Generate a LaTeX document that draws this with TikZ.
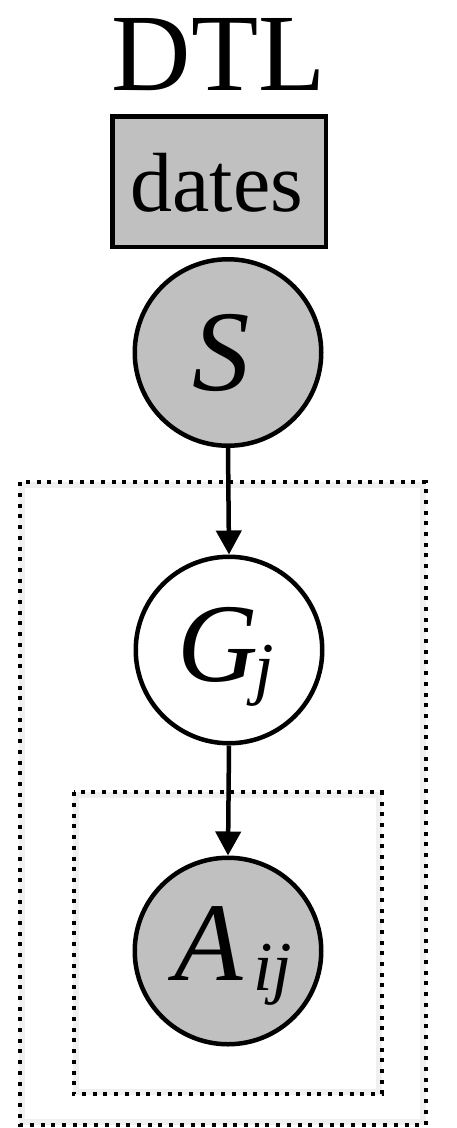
\documentclass[tikz,border=0pt]{standalone}
\usepackage{fontspec}
\setmainfont{Liberation Serif}
\usetikzlibrary{arrows.meta}
\definecolor{nodegray}{RGB}{192,192,192}
\tikzset{
  txt/.style={inner sep=0pt, outer sep=0pt, anchor=base},
  lab/.style={inner sep=0pt, outer sep=0pt, anchor=base west},
  varnode/.style={circle, draw=black, line width=4.5pt, minimum size=186.5pt, inner sep=0pt},
  obsnode/.style={varnode, fill=nodegray},
  datebox/.style={rectangle, draw=black, line width=4.5pt, fill=nodegray, minimum width=213.5pt, minimum height=130.5pt, inner sep=0pt},
  plate/.style={draw=black, line width=4pt, dash pattern=on 4pt off 6.7pt},
  plateshadow/.style={draw=black!6, line width=6pt},
  edge/.style={draw=black, line width=4.5pt, -{Triangle[width=25pt,length=24pt]}}
}
\newcommand{\subtxt}[1]{\raisebox{-10pt}{\fontsize{70pt}{70pt}\selectfont\itshape #1}}
\begin{document}
\begin{tikzpicture}[x=1pt,y=-1pt]
\useasboundingbox (0,0) rectangle (456,1128);
% plate shadows
\draw[plateshadow] (22.2,484.8) rectangle (423.2,1122.2);
\draw[plateshadow] (76.2,794.8) rectangle (379.2,1091.8);
% plates
\draw[plate] (19.7,482.3) rectangle (425.7,1124.7);
\draw[plate] (73.7,792.3) rectangle (381.7,1094.3);
% title
\node[txt] (title) at (218.5,90) {\fontsize{110pt}{110pt}\selectfont DTL};
% dates box
\node[datebox] (dates) at (219,181.5) {};
\node[txt] (datestxt) at (217,211) {\fontsize{84pt}{84pt}\selectfont dates};
% nodes
\node[obsnode] (S) at (228,352.5) {};
\node[varnode] (G) at (229,650) {};
\node[obsnode] (A) at (228,951) {};
% labels
\node[txt] (Slab) at (221,390) {\fontsize{115pt}{115pt}\selectfont\itshape S};
\node[lab] (Glab) at (177.6,681) {\fontsize{112pt}{112pt}\selectfont\itshape G\kern-4pt\subtxt{j}};
\node[lab] (Alab) at (174.8,980) {\fontsize{112pt}{112pt}\selectfont\itshape A\kern10pt\subtxt{ij}};
% edges
\draw[edge] (S.south) -- (G.north);
\draw[edge] (G.south) -- (A.north);
\end{tikzpicture}
\end{document}
